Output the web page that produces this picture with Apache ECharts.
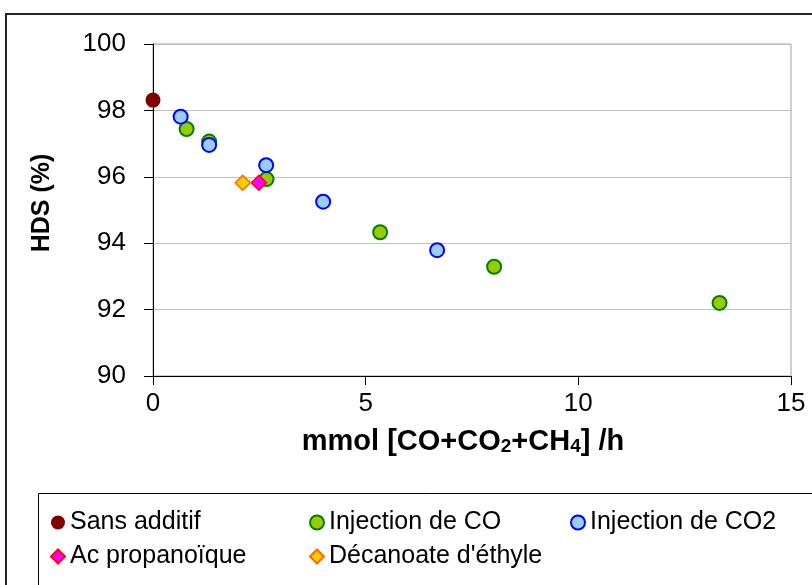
<!DOCTYPE html>
<html>
<head>
<meta charset="utf-8">
<script src="https://cdn.jsdelivr.net/npm/echarts@6/dist/echarts.min.js"></script>
<style>
  html, body { margin: 0; padding: 0; background: #fff; }
  #chart { width: 812px; height: 585px; }
</style>
</head>
<body>
<div id="chart"></div>
<script>
// values: [mmol CO+CO2+CH4 /h, HDS %]
const sansAdditif = [[0, 98.31]];
const injectionCO = [[0.79, 97.44], [1.32, 97.06], [2.67, 95.93], [5.34, 94.33], [8.02, 93.29], [13.32, 92.2]];
const injectionCO2 = [[0.65, 97.81], [1.32, 96.96], [2.66, 96.35], [4.0, 95.25], [6.68, 93.79]];
const acPropanoique = [[2.49, 95.82]];
const decanoate = [[2.11, 95.82]];

const xTicks = { min: 0, max: 15, interval: 5 };
const yTicks = { min: 90, max: 100, interval: 2 };

const font = "Liberation Sans, Arial, sans-serif";

let chart = echarts.init(document.getElementById("chart"));

let legendBase = {
  orient: "vertical",
  top: 505,
  itemWidth: 14,
  itemHeight: 14,
  itemGap: 9,
  textStyle: { fontFamily: font, fontSize: 25, color: "#000" }
};

let option = {
  backgroundColor: "#fff",
  animation: false,
  graphic: [
    {
      type: "rect",
      shape: { x: 6, y: 14, width: 900, height: 700 },
      style: { fill: "none", stroke: "#222", lineWidth: 2 }
    },
    {
      type: "rect",
      shape: { x: 38.5, y: 493.5, width: 900, height: 200 },
      style: { fill: "none", stroke: "#000", lineWidth: 1 }
    }
  ],
  grid: {
    left: 153,
    right: 21,
    top: 44,
    bottom: 209,
    show: true,
    borderColor: "#a0a0a0",
    borderWidth: 1
  },
  legend: [
    Object.assign({}, legendBase, { left: 45, data: ["Sans additif", "Ac propanoïque"] }),
    Object.assign({}, legendBase, { left: 304, data: ["Injection de CO", "Décanoate d'éthyle"] }),
    Object.assign({}, legendBase, { left: 565, data: ["Injection de CO2"] })
  ],
  xAxis: {
    type: "value",
    min: xTicks.min,
    max: xTicks.max,
    interval: xTicks.interval,
    name: "{a|mmol [CO+CO}{s|2}{a|+CH}{s|4}{a|] /h}",
    nameLocation: "middle",
    nameGap: 50,
    nameTextStyle: {
      padding: [0, 18, 0, 0],
      rich: {
        a: { fontFamily: font, fontSize: 29, fontWeight: "bold", color: "#000", lineHeight: 30, verticalAlign: "bottom" },
        s: { fontFamily: font, fontSize: 19, fontWeight: "bold", color: "#000", lineHeight: 18, verticalAlign: "bottom" }
      }
    },
    axisLine: { show: true, onZero: false, lineStyle: { color: "#000", width: 1 } },
    axisTick: { show: true, length: 9, lineStyle: { color: "#000" } },
    axisLabel: { fontFamily: font, fontSize: 26, color: "#000", margin: 15 },
    splitLine: { show: false }
  },
  yAxis: {
    type: "value",
    min: yTicks.min,
    max: yTicks.max,
    interval: yTicks.interval,
    name: "HDS (%)",
    nameLocation: "middle",
    nameGap: 98,
    nameTextStyle: { fontFamily: font, fontSize: 25, fontWeight: "bold", color: "#000", padding: [0, 0, 0, 14] },
    axisLine: { show: true, onZero: false, lineStyle: { color: "#000", width: 1 } },
    axisTick: { show: true, length: 9, lineStyle: { color: "#000" } },
    axisLabel: { fontFamily: font, fontSize: 26, color: "#000", margin: 27 },
    splitLine: { show: true, lineStyle: { color: "#c0c0c0", width: 1 } }
  },
  series: [
    {
      name: "Sans additif",
      type: "scatter",
      symbol: "circle",
      symbolSize: 15,
      data: sansAdditif,
      itemStyle: { color: "#800000", opacity: 1 }
    },
    {
      name: "Injection de CO",
      type: "scatter",
      symbol: "circle",
      symbolSize: 14,
      data: injectionCO,
      itemStyle: { color: "#99cc00", borderColor: "#008000", borderWidth: 2, opacity: 1 }
    },
    {
      name: "Injection de CO2",
      type: "scatter",
      symbol: "circle",
      symbolSize: 14,
      data: injectionCO2,
      itemStyle: { color: "#99ccff", borderColor: "#0000ff", borderWidth: 2, opacity: 1 }
    },
    {
      name: "Ac propanoïque",
      type: "scatter",
      symbol: "diamond",
      symbolSize: 15,
      data: acPropanoique,
      itemStyle: { color: "#ff00ff", borderColor: "#ff0000", borderWidth: 1.5, opacity: 1 }
    },
    {
      name: "Décanoate d'éthyle",
      type: "scatter",
      symbol: "diamond",
      symbolSize: 15,
      data: decanoate,
      itemStyle: { color: "#ffcc00", borderColor: "#ff6600", borderWidth: 1.5, opacity: 1 }
    }
  ]
};

chart.setOption(option);
</script>
</body>
</html>
